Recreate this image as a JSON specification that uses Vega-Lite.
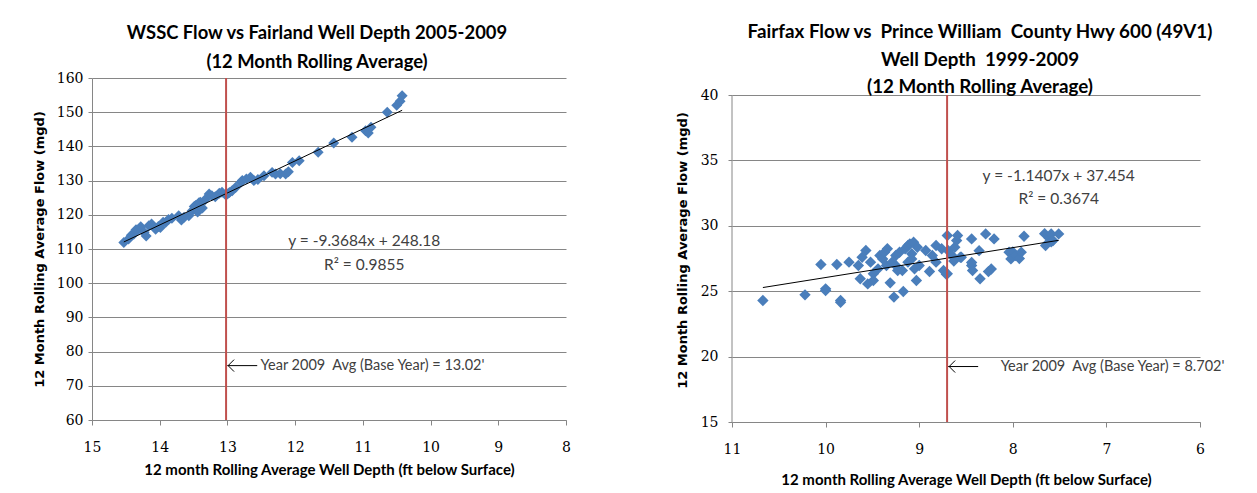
{
  "$schema": "https://vega.github.io/schema/vega-lite/v6.json",
  "background": "white",
  "padding": {"left": 33, "top": 23, "right": 5, "bottom": 4},
  "spacing": 105,
  "config": {
    "view": {"stroke": null},
    "axis": {"domainColor": "#868686", "tickColor": "#868686", "gridColor": "#868686", "labelFont": "DejaVu Serif", "labelFontSize": 14, "labelColor": "#000000", "titleColor": "#000000", "labelOverlap": false, "labelFlush": false}
  },
  "datasets": {
    "left": [
      {"depth":14.53,"flow":111.9},{"depth":14.46,"flow":112.9},{"depth":14.42,"flow":114.0},{"depth":14.38,"flow":114.4},{"depth":14.35,"flow":115.6},{"depth":14.31,"flow":115.8},{"depth":14.28,"flow":116.5},{"depth":14.23,"flow":114.9},{"depth":14.2,"flow":113.8},{"depth":14.16,"flow":116.8},{"depth":14.12,"flow":117.3},{"depth":14.06,"flow":115.8},{"depth":14.02,"flow":116.6},{"depth":13.99,"flow":116.3},{"depth":13.95,"flow":117.8},{"depth":13.91,"flow":117.8},{"depth":13.87,"flow":118.6},{"depth":13.82,"flow":119.0},{"depth":13.72,"flow":119.7},{"depth":13.68,"flow":118.5},{"depth":13.64,"flow":119.3},{"depth":13.57,"flow":119.7},{"depth":13.52,"flow":121.2},{"depth":13.49,"flow":122.4},{"depth":13.47,"flow":122.7},{"depth":13.44,"flow":120.8},{"depth":13.42,"flow":123.5},{"depth":13.4,"flow":123.7},{"depth":13.37,"flow":122.0},{"depth":13.33,"flow":124.4},{"depth":13.27,"flow":126.1},{"depth":13.23,"flow":125.6},{"depth":13.18,"flow":125.3},{"depth":13.12,"flow":126.3},{"depth":13.08,"flow":126.6},{"depth":13.03,"flow":125.9},{"depth":13.0,"flow":126.1},{"depth":12.97,"flow":126.5},{"depth":12.93,"flow":127.05},{"depth":12.88,"flow":128.0},{"depth":12.8,"flow":129.5},{"depth":12.78,"flow":130.0},{"depth":12.72,"flow":130.5},{"depth":12.66,"flow":131.0},{"depth":12.61,"flow":130.0},{"depth":12.55,"flow":130.3},{"depth":12.46,"flow":131.4},{"depth":12.34,"flow":132.4},{"depth":12.29,"flow":131.9},{"depth":12.22,"flow":132.0},{"depth":12.14,"flow":131.9},{"depth":12.1,"flow":132.6},{"depth":12.04,"flow":135.3},{"depth":11.94,"flow":135.8},{"depth":11.66,"flow":138.3},{"depth":11.43,"flow":141.0},{"depth":11.16,"flow":142.7},{"depth":10.96,"flow":144.6},{"depth":10.92,"flow":143.9},{"depth":10.88,"flow":145.6},{"depth":10.64,"flow":150.0},{"depth":10.5,"flow":152.0},{"depth":10.45,"flow":153.2},{"depth":10.42,"flow":154.8}
    ],
    "right": [
      {"depth":10.67,"flow":24.29},{"depth":10.22,"flow":24.72},{"depth":10.05,"flow":27.04},{"depth":10.0,"flow":25.18},{"depth":10.0,"flow":25.05},{"depth":9.88,"flow":27.04},{"depth":9.84,"flow":24.29},{"depth":9.84,"flow":24.16},{"depth":9.75,"flow":27.22},{"depth":9.65,"flow":26.96},{"depth":9.63,"flow":25.95},{"depth":9.61,"flow":27.6},{"depth":9.57,"flow":28.11},{"depth":9.55,"flow":25.56},{"depth":9.52,"flow":27.22},{"depth":9.49,"flow":26.33},{"depth":9.49,"flow":25.82},{"depth":9.44,"flow":26.71},{"depth":9.42,"flow":27.73},{"depth":9.39,"flow":27.47},{"depth":9.37,"flow":27.98},{"depth":9.35,"flow":26.96},{"depth":9.34,"flow":28.24},{"depth":9.31,"flow":25.64},{"depth":9.29,"flow":27.22},{"depth":9.27,"flow":24.55},{"depth":9.25,"flow":27.73},{"depth":9.25,"flow":26.96},{"depth":9.23,"flow":26.58},{"depth":9.21,"flow":27.98},{"depth":9.18,"flow":26.58},{"depth":9.17,"flow":24.98},{"depth":9.15,"flow":28.24},{"depth":9.12,"flow":27.22},{"depth":9.12,"flow":28.49},{"depth":9.1,"flow":28.62},{"depth":9.08,"flow":27.86},{"depth":9.08,"flow":27.47},{"depth":9.06,"flow":28.75},{"depth":9.05,"flow":26.71},{"depth":9.03,"flow":25.82},{"depth":9.02,"flow":28.36},{"depth":9.0,"flow":26.96},{"depth":8.93,"flow":28.11},{"depth":8.89,"flow":26.51},{"depth":8.86,"flow":27.73},{"depth":8.82,"flow":27.22},{"depth":8.82,"flow":28.49},{"depth":8.76,"flow":28.24},{"depth":8.74,"flow":26.58},{"depth":8.71,"flow":26.3},{"depth":8.7,"flow":29.26},{"depth":8.7,"flow":26.33},{"depth":8.69,"flow":28.1},{"depth":8.65,"flow":27.73},{"depth":8.63,"flow":27.3},{"depth":8.62,"flow":28.36},{"depth":8.6,"flow":28.88},{"depth":8.59,"flow":29.26},{"depth":8.56,"flow":27.6},{"depth":8.55,"flow":27.6},{"depth":8.44,"flow":29.0},{"depth":8.44,"flow":26.96},{"depth":8.44,"flow":27.2},{"depth":8.43,"flow":26.58},{"depth":8.36,"flow":28.1},{"depth":8.35,"flow":25.95},{"depth":8.29,"flow":29.38},{"depth":8.26,"flow":26.5},{"depth":8.23,"flow":26.7},{"depth":8.2,"flow":29.0},{"depth":8.04,"flow":27.98},{"depth":8.02,"flow":27.47},{"depth":8.0,"flow":28.0},{"depth":7.97,"flow":27.73},{"depth":7.93,"flow":27.5},{"depth":7.91,"flow":27.98},{"depth":7.88,"flow":29.2},{"depth":7.66,"flow":29.4},{"depth":7.65,"flow":28.49},{"depth":7.61,"flow":29.05},{"depth":7.59,"flow":29.38},{"depth":7.59,"flow":28.77},{"depth":7.57,"flow":28.87},{"depth":7.51,"flow":29.38}
    ]
  },
  "hconcat": [
    {
      "width": 474,
      "height": 342,
      "title": {"text": ["WSSC Flow vs Fairland Well Depth 2005-2009", "(12 Month Rolling Average)"], "font": "Lato", "fontSize": 18.4, "fontWeight": "bold", "lineHeight": 29, "frame": "group", "anchor": "middle", "dx": -12, "offset": 0, "color": "#000000"},
      "encoding": {
        "x": {"field": "depth", "type": "quantitative", "scale": {"domain": [8, 15], "reverse": true, "nice": false, "zero": false},
          "axis": {"values": [8,9,10,11,12,13,14,15], "format": "d", "grid": false, "tickSize": 5, "labelPadding": 15, "title": "12 month Rolling Average Well Depth (ft below Surface)", "titleFont": "Lato", "titleFontSize": 15, "titleFontWeight": "bold", "titlePadding": 8}},
        "y": {"field": "flow", "type": "quantitative", "scale": {"domain": [60, 160], "nice": false, "zero": false},
          "axis": {"values": [60,70,80,90,100,110,120,130,140,150,160], "grid": true, "tickSize": 4, "labelPadding": 5, "title": "12 Month Rolling Average Flow (mgd)", "titleFont": "DejaVu Sans", "titleFontSize": 13, "titleFontWeight": "bold", "titlePadding": 10}}
      },
      "layer": [
        {
          "data": {"name": "left"},
          "mark": {"type": "point", "shape": "diamond", "filled": true, "size": 120, "color": "#4A7EBB", "opacity": 1}
        },
        {
          "data": {"values": [{"depth": 14.53, "flow": 112.06}, {"depth": 10.42, "flow": 150.56}]},
          "mark": {"type": "line", "color": "#000000", "strokeWidth": 1}
        },
        {
          "data": {"values": [{"depth": 13.02, "flow": 60, "flow2": 160}]},
          "mark": {"type": "rule", "color": "#C0504D", "strokeWidth": 2},
          "encoding": {"y2": {"field": "flow2"}}
        },
        {
          "data": {"values": [{"depth": 13.0, "depth2": 12.56, "flow": 75.9}]},
          "mark": {"type": "rule", "color": "#000000", "strokeWidth": 1},
          "encoding": {"x2": {"field": "depth2"}}
        },
        {
          "data": {"values": [{"depth": 12.99, "flow": 75.9}]},
          "mark": {"type": "point", "shape": "M1,-1L0,0L1,1", "filled": false, "size": 144, "color": "#000000", "strokeWidth": 1, "opacity": 1}
        },
        {
          "data": {"values": [{"depth": 12.51, "flow": 75.9, "label": "Year 2009 \u00a0Avg (Base Year) = 13.02'"}]},
          "mark": {"type": "text", "align": "left", "baseline": "middle", "font": "Lato", "fontSize": 14.5, "color": "#404040"},
          "encoding": {"text": {"field": "label"}}
        },
        {
          "data": {"values": [{"depth": 10.98, "flow": 112.3, "label": "y = -9.3684x + 248.18"}, {"depth": 10.98, "flow": 105.4, "label": "R² = 0.9855"}]},
          "mark": {"type": "text", "align": "center", "baseline": "middle", "font": "Lato", "fontSize": 15.5, "color": "#404040"},
          "encoding": {"text": {"field": "label"}}
        }
      ]
    },
    {
      "width": 468,
      "height": 344,
      "title": {"text": ["Fairfax Flow vs \u00a0Prince William \u00a0County Hwy 600 (49V1)", "Well Depth \u00a01999-2009", "(12 Month Rolling Average)"], "font": "Lato", "fontSize": 18.8, "fontWeight": "bold", "lineHeight": 27.5, "frame": "group", "anchor": "middle", "dx": 14, "offset": -19, "color": "#000000"},
      "encoding": {
        "x": {"field": "depth", "type": "quantitative", "scale": {"domain": [6, 11], "reverse": true, "nice": false, "zero": false},
          "axis": {"values": [6,7,8,9,10,11], "format": "d", "grid": false, "tickSize": 5, "labelPadding": 15, "title": "12 month Rolling Average Well Depth (ft below Surface)", "titleFont": "Lato", "titleFontSize": 15, "titleFontWeight": "bold", "titlePadding": 16}},
        "y": {"field": "flow", "type": "quantitative", "scale": {"domain": [15, 41.3], "nice": false, "zero": false},
          "axis": {"values": [15,20,25,30,35,40], "grid": true, "domain": false, "tickSize": 4, "labelPadding": 10, "title": "12 Month Rolling Average Flow (mgd)", "titleFont": "DejaVu Sans", "titleFontSize": 13, "titleFontWeight": "bold", "titlePadding": 11}}
      },
      "layer": [
        {
          "data": {"name": "right"},
          "mark": {"type": "point", "shape": "diamond", "filled": true, "size": 130, "color": "#4A7EBB", "opacity": 1}
        },
        {
          "data": {"values": [{"depth": 11, "flow": 15, "flow2": 40}]},
          "mark": {"type": "rule", "color": "#868686", "strokeWidth": 1},
          "encoding": {"y2": {"field": "flow2"}}
        },
        {
          "data": {"values": [{"depth": 10.67, "flow": 25.28}, {"depth": 7.51, "flow": 28.89}]},
          "mark": {"type": "line", "color": "#000000", "strokeWidth": 1}
        },
        {
          "data": {"values": [{"depth": 8.702, "flow": 15, "flow2": 40}]},
          "mark": {"type": "rule", "color": "#C0504D", "strokeWidth": 2},
          "encoding": {"y2": {"field": "flow2"}}
        },
        {
          "data": {"values": [{"depth": 8.69, "depth2": 8.37, "flow": 19.24}]},
          "mark": {"type": "rule", "color": "#000000", "strokeWidth": 1},
          "encoding": {"x2": {"field": "depth2"}}
        },
        {
          "data": {"values": [{"depth": 8.68, "flow": 19.24}]},
          "mark": {"type": "point", "shape": "M1,-1L0,0L1,1", "filled": false, "size": 144, "color": "#000000", "strokeWidth": 1, "opacity": 1}
        },
        {
          "data": {"values": [{"depth": 8.13, "flow": 19.24, "label": "Year 2009 \u00a0Avg (Base Year) = 8.702'"}]},
          "mark": {"type": "text", "align": "left", "baseline": "middle", "font": "Lato", "fontSize": 14.5, "color": "#404040"},
          "encoding": {"text": {"field": "label"}}
        },
        {
          "data": {"values": [{"depth": 7.51, "flow": 33.83, "label": "y = -1.1407x + 37.454"}, {"depth": 7.51, "flow": 32.05, "label": "R² = 0.3674"}]},
          "mark": {"type": "text", "align": "center", "baseline": "middle", "font": "Lato", "fontSize": 15.5, "color": "#404040"},
          "encoding": {"text": {"field": "label"}}
        }
      ]
    }
  ]
}
